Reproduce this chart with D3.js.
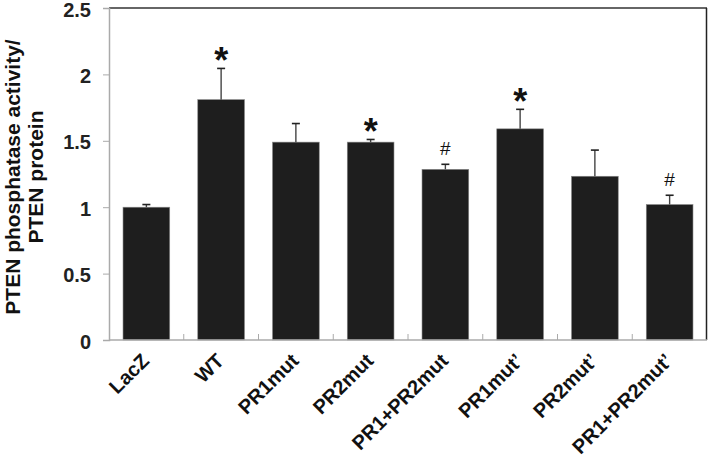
<!DOCTYPE html>
<html>
<head>
<meta charset="utf-8">
<script src="https://cdn.jsdelivr.net/npm/d3@7"></script>
<style>
  body { margin: 0; background: #fff; }
  text { font-family: "Liberation Sans", Arial, sans-serif; }
</style>
</head>
<body>
<div id="chart"></div>
<script>
// chart data
const categories = ["LacZ", "WT", "PR1mut", "PR2mut", "PR1+PR2mut", "PR1mut\u2019", "PR2mut\u2019", "PR1+PR2mut\u2019"];
const means = [1.0, 1.81, 1.49, 1.49, 1.285, 1.59, 1.233, 1.02];
const errors = [0.02, 0.235, 0.14, 0.02, 0.038, 0.147, 0.197, 0.07];
const marks = ["", "*", "", "*", "#", "*", "", "#"];
const yTicks = [0, 0.5, 1, 1.5, 2, 2.5];

const W = 708, H = 463;
const margin = { top: 8, right: 1, bottom: 123, left: 109 };
const width = W - margin.left - margin.right,
  height = H - margin.top - margin.bottom;

const svg = d3.select("#chart").append("svg")
  .attr("width", W)
  .attr("height", H);

const g = svg.append("g")
  .attr("transform", "translate(" + margin.left + "," + margin.top + ")");

const x = d3.scaleBand()
  .domain(categories)
  .range([0, width])
  .paddingInner(0.375)
  .paddingOuter(0.1875);

const y = d3.scaleLinear()
  .domain([0, 2.5])
  .range([height, 0]);

// frame: dark top and right edges
g.append("line")
  .attr("x1", 0).attr("x2", width)
  .attr("y1", 0).attr("y2", 0)
  .attr("stroke", "#333").attr("stroke-width", 1.5);
g.append("line")
  .attr("x1", width - 0.5).attr("x2", width - 0.5)
  .attr("y1", 0).attr("y2", height)
  .attr("stroke", "#222").attr("stroke-width", 1.5);

// bars
g.selectAll("rect.bar")
  .data(categories)
  .enter().append("rect")
  .attr("class", "bar")
  .attr("x", d => x(d))
  .attr("width", x.bandwidth())
  .attr("y", (d, i) => y(means[i]))
  .attr("height", (d, i) => height - y(means[i]))
  .attr("fill", "#1e1e1e")
  .attr("stroke", "#888")
  .attr("stroke-width", 0.6);

// error bars
const eb = g.selectAll("g.err")
  .data(categories)
  .enter().append("g")
  .attr("class", "err")
  .attr("transform", d => "translate(" + (x(d) + x.bandwidth() / 2) + ",0)");

eb.append("line")
  .attr("y1", (d, i) => y(means[i]))
  .attr("y2", (d, i) => y(means[i] + errors[i]))
  .attr("stroke", "#444").attr("stroke-width", 1.4);
eb.append("line")
  .attr("x1", -4).attr("x2", 4)
  .attr("y1", (d, i) => y(means[i] + errors[i]))
  .attr("y2", (d, i) => y(means[i] + errors[i]))
  .attr("stroke", "#222").attr("stroke-width", 1.6);

// significance marks (* bold, # plain)
eb.append("text")
  .attr("text-anchor", "middle")
  .attr("y", (d, i) => y(means[i] + errors[i]) + (marks[i] === "*" ? 5 : -9))
  .attr("font-size", (d, i) => marks[i] === "*" ? 36 : 19)
  .attr("font-weight", (d, i) => marks[i] === "*" ? "bold" : "normal")
  .attr("fill", "#111")
  .text((d, i) => marks[i]);

// y axis
const yAxis = g.append("g")
  .call(d3.axisLeft(y).tickValues(yTicks).tickSize(6).tickPadding(12)
    .tickFormat(d => d3.format("")(d)));
yAxis.select(".domain").attr("stroke", "#aaa").attr("stroke-width", 1.5);
yAxis.selectAll(".tick line").attr("stroke", "#aaa");
yAxis.selectAll(".tick text")
  .attr("font-size", 20).attr("font-weight", "bold").attr("fill", "#222")
  .attr("dy", "0.4em");

// x axis: ticks between categories, pointing up
const xAxis = g.append("g")
  .attr("transform", "translate(0," + height + ")");
xAxis.append("line")
  .attr("x1", 0).attr("x2", width)
  .attr("stroke", "#aaa").attr("stroke-width", 1.5);
xAxis.selectAll("line.sep")
  .data(categories.slice(1))
  .enter().append("line")
  .attr("class", "sep")
  .attr("x1", d => x(d) - x.step() * x.paddingInner() / 2)
  .attr("x2", d => x(d) - x.step() * x.paddingInner() / 2)
  .attr("y1", 0).attr("y2", -6)
  .attr("stroke", "#aaa");

xAxis.selectAll("text.lab")
  .data(categories)
  .enter().append("text")
  .attr("class", "lab")
  .attr("text-anchor", "end")
  .attr("transform", d => "translate(" + (x(d) + x.bandwidth() / 2 + 4) + ",22) rotate(-45)")
  .attr("font-size", 20)
  .attr("font-weight", "bold")
  .attr("fill", "#111")
  .text(d => d);

// y axis title
const yTitle = svg.append("text")
  .attr("transform", "translate(20," + (margin.top + height / 2 + 3) + ") rotate(-90)")
  .attr("text-anchor", "middle")
  .attr("font-size", 21)
  .attr("font-weight", "bold")
  .attr("fill", "#111");
yTitle.append("tspan").attr("x", 0).attr("dy", "0").text("PTEN phosphatase activity/");
yTitle.append("tspan").attr("x", 0).attr("dy", "1.1em").text("PTEN protein");
</script>
</body>
</html>
